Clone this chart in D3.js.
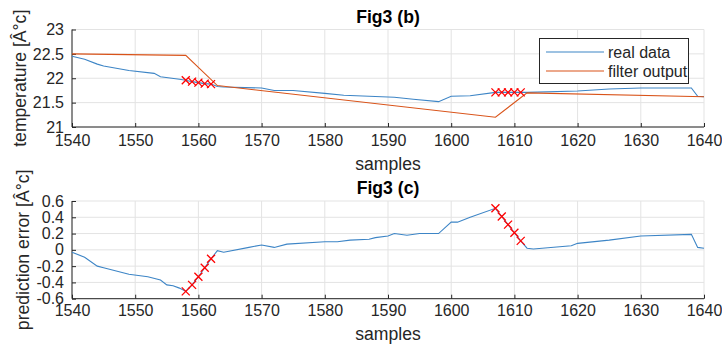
<!DOCTYPE html>
<html>
<head>
<meta charset="utf-8">
<script src="https://d3js.org/d3.v7.min.js"></script>
<style>
  body { margin: 0; background: #fff; }
  text { font-family: "Liberation Sans", Arial, sans-serif; fill: #262626; }
</style>
</head>
<body>
<svg id="chart" width="722" height="349"></svg>
<script>

// samples (x) and readings taken off the figure
var realSamples = [1540,1542,1544,1545,1549,1553,1554,1557,1558,1559,1560,1561,1562,1563,1564,1570,1572,1575,1580,1583,1589,1591,1594,1598,1600,1603,1607,1608,1609,1610,1611,1612,1620,1625,1630,1638,1639,1640];
var realValues  = [22.45,22.39,22.29,22.25,22.16,22.10,22.03,21.98,21.96,21.93,21.91,21.89,21.88,21.83,21.82,21.80,21.75,21.75,21.69,21.65,21.62,21.61,21.57,21.52,21.63,21.64,21.71,21.71,21.71,21.71,21.71,21.71,21.74,21.78,21.80,21.80,21.63,21.62];

var filterSamples = [1540,1558,1563,1607,1612,1640];
var filterValues  = [22.50,22.47,21.85,21.20,21.70,21.62];

var errorSamples = [1540,1542,1544,1545,1549,1552,1554,1555,1556,1557,1558,1559,1560,1561,1562,1563,1564,1568,1570,1572,1574,1580,1582,1584,1587,1588,1590,1591,1593,1595,1598,1600,1601,1603,1607,1608,1609,1610,1611,1612,1613,1619,1620,1625,1630,1638,1639,1640];
var errorValues  = [-0.03,-0.09,-0.20,-0.22,-0.30,-0.33,-0.37,-0.43,-0.44,-0.47,-0.51,-0.43,-0.33,-0.22,-0.11,-0.01,-0.03,0.03,0.06,0.03,0.07,0.10,0.10,0.12,0.13,0.15,0.17,0.20,0.18,0.20,0.20,0.34,0.34,0.40,0.51,0.41,0.31,0.21,0.11,0.02,0.01,0.05,0.08,0.12,0.17,0.19,0.03,0.02];

// samples flagged with red crosses
var flagSamples = [1558,1559,1560,1561,1562,1607,1608,1609,1610,1611];

var xTicks = [1540,1550,1560,1570,1580,1590,1600,1610,1620,1630,1640];
var tempTicks = [21,21.5,22,22.5,23];
var errTicks = [-0.6,-0.4,-0.2,0,0.2,0.4,0.6];

var blue = "#3d85c6", orange = "#d95319", axisCol = "#262626", gridCol = "#e3e3e3";

var svg = d3.select("#chart");
var left = 72, right = 704;

var x = d3.scaleLinear().domain([1540, 1640]).range([left, right]);

function zip(xs, ys) {
  return xs.map(function(s, i) { return [s, ys[i]]; });
}

function panel(o) {
  var y = d3.scaleLinear().domain(o.domain).range([o.bottom, o.top]);
  var g = svg.append("g");

  // grid
  g.append("g").selectAll("line").data(xTicks).enter().append("line")
    .attr("x1", function(d) { return x(d); }).attr("x2", function(d) { return x(d); })
    .attr("y1", o.top).attr("y2", o.bottom)
    .attr("stroke", gridCol).attr("stroke-width", 1);
  g.append("g").selectAll("line").data(o.ticks).enter().append("line")
    .attr("x1", left).attr("x2", right)
    .attr("y1", function(d) { return y(d); }).attr("y2", function(d) { return y(d); })
    .attr("stroke", gridCol).attr("stroke-width", 1);

  // axes, ticks pointing inwards
  var xa = g.append("g").attr("transform", "translate(0," + o.bottom + ")")
    .call(d3.axisBottom(x).tickValues(xTicks).tickSizeInner(-4).tickSizeOuter(0).tickPadding(o.xPad)
      .tickFormat(d3.format("d")));
  var ya = g.append("g").attr("transform", "translate(" + left + ",0)")
    .call(d3.axisLeft(y).tickValues(o.ticks).tickSizeInner(-4).tickSizeOuter(0).tickPadding(8)
      .tickFormat(function(d) { return String(+d.toFixed(1)); }));
  [xa, ya].forEach(function(a) {
    a.select(".domain").attr("stroke", axisCol);
    a.selectAll(".tick line").attr("stroke", axisCol);
    a.selectAll(".tick text").attr("font-size", 16).attr("fill", axisCol)
      .style("font-family", "'Liberation Sans', Arial, sans-serif");
  });
  xa.select(".domain").attr("d", "M" + left + ",0H" + right);
  ya.select(".domain").attr("d", "M0," + o.top + "V" + o.bottom);

  // series
  var line = d3.line().x(function(d) { return x(d[0]); }).y(function(d) { return y(d[1]); });
  o.series.forEach(function(s) {
    g.append("path").datum(s.data).attr("d", line)
      .attr("fill", "none").attr("stroke", s.color).attr("stroke-width", 1.1);
  });

  // red crosses
  var m = 4;
  g.append("g").selectAll("path").data(o.flags).enter().append("path")
    .attr("d", function(d) {
      var cx = x(d[0]), cy = y(d[1]);
      return "M" + (cx - m) + "," + (cy - m) + "L" + (cx + m) + "," + (cy + m) +
             "M" + (cx - m) + "," + (cy + m) + "L" + (cx + m) + "," + (cy - m);
    })
    .attr("stroke", "#ff0000").attr("stroke-width", 1.3).attr("fill", "none");

  // labels
  g.append("text").attr("x", (left + right) / 2).attr("y", o.top - 7)
    .attr("text-anchor", "middle").attr("font-size", 17.6).attr("font-weight", "bold")
    .style("fill", "#000").text(o.title);
  g.append("text").attr("x", (left + right) / 2).attr("y", o.bottom + o.xLabelDy)
    .attr("text-anchor", "middle").attr("font-size", 17.6).text("samples");
  g.append("text")
    .attr("transform", "translate(" + o.yLabelX + "," + ((o.top + o.bottom) / 2) + ") rotate(-90)")
    .attr("text-anchor", "middle").attr("font-size", 17.6).text(o.yLabel);

  return y;
}

function valueAt(xs, ys, s) {
  return ys[xs.indexOf(s)];
}

panel({
  top: 29.5, bottom: 127, domain: [21, 23], ticks: tempTicks,
  title: "Fig3 (b)", yLabel: "temperature [Â°c]", yLabelX: 26, xPad: 8, xLabelDy: 43,
  series: [
    { data: zip(realSamples, realValues), color: blue },
    { data: zip(filterSamples, filterValues), color: orange }
  ],
  flags: flagSamples.map(function(s) { return [s, valueAt(realSamples, realValues, s)]; })
});

panel({
  top: 201, bottom: 298.7, domain: [-0.6, 0.6], ticks: errTicks,
  title: "Fig3 (c)", yLabel: "prediction error [Â°c]", yLabelX: 29, xPad: 6, xLabelDy: 41,
  series: [
    { data: zip(errorSamples, errorValues), color: blue }
  ],
  flags: flagSamples.map(function(s) { return [s, valueAt(errorSamples, errorValues, s)]; })
});

// legend
var lg = svg.append("g");
lg.append("rect").attr("x", 539.5).attr("y", 38.5).attr("width", 149).attr("height", 45)
  .attr("fill", "#fff").attr("stroke", axisCol).attr("stroke-width", 1);
[["real data", blue, 52], ["filter output", orange, 71]].forEach(function(it) {
  lg.append("line").attr("x1", 546).attr("x2", 604).attr("y1", it[2]).attr("y2", it[2])
    .attr("stroke", it[1]).attr("stroke-width", 1.1);
  lg.append("text").attr("x", 608).attr("y", it[2]).attr("dy", "0.35em")
    .attr("font-size", 16).text(it[0]);
});

</script>
</body>
</html>
